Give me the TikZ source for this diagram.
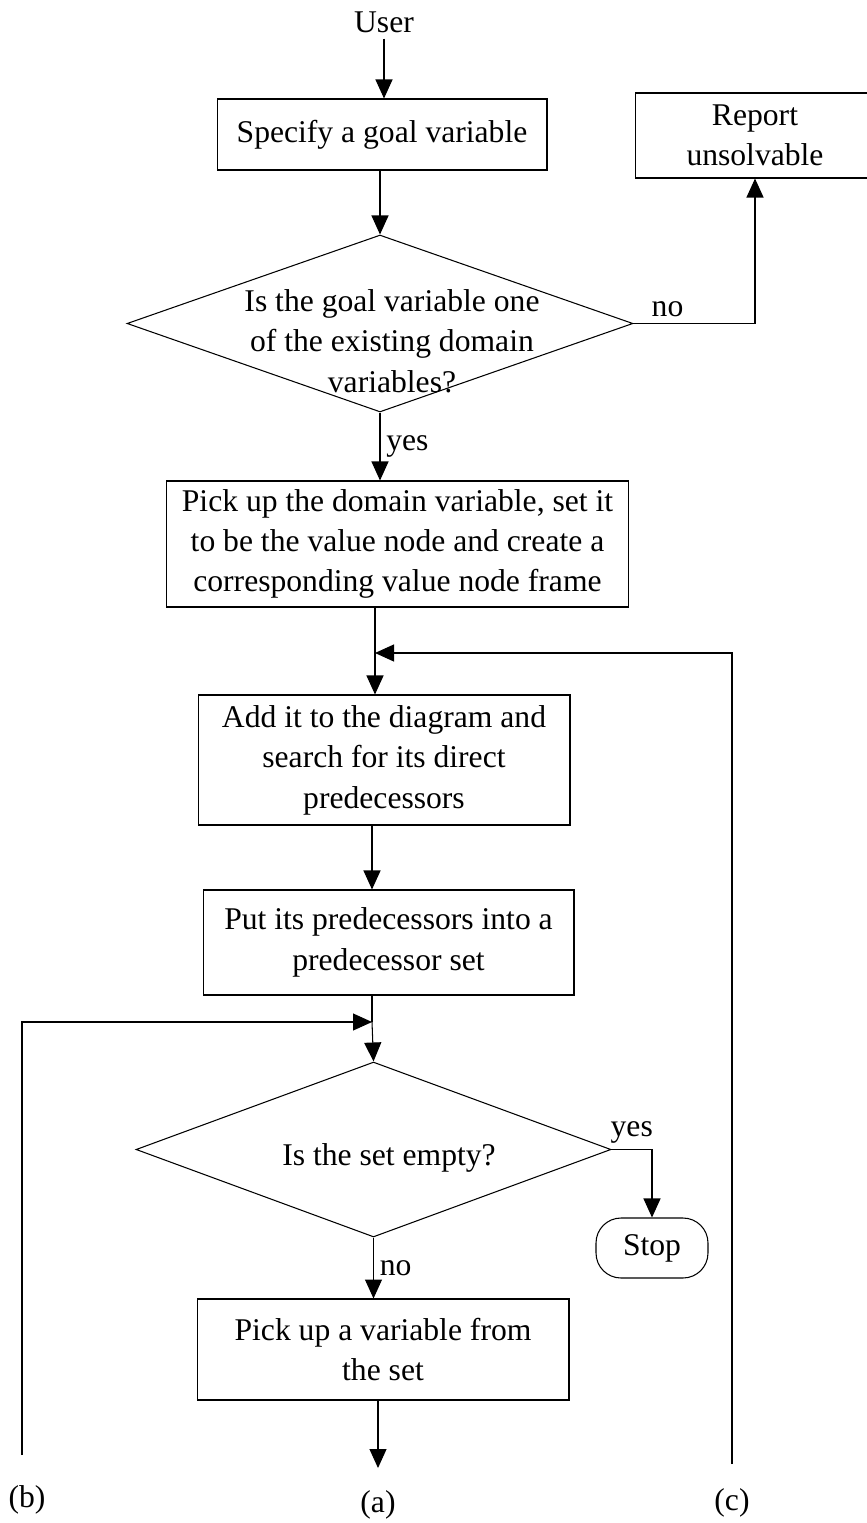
\documentclass[tikz,border=0pt]{standalone}
\usepackage{fontspec}
\setmainfont{Liberation Serif}
\usetikzlibrary{arrows.meta,shapes.geometric,positioning}

\tikzset{
  block/.style={draw,line width=0.6pt,align=center,inner sep=0pt},
  decision/.style={draw,diamond,line width=0.6pt,inner sep=0pt},
  terminal/.style={draw,rounded corners=0.5cm,line width=0.6pt,inner sep=0pt},
  conn/.style={line width=0.6pt}
}

\begin{document}
\begin{tikzpicture}[x=0.02cm,y=-0.02cm,>={Triangle[length=0.38cm,width=0.34cm]},
    font=\fontsize{18}{23}\selectfont]

	\useasboundingbox (0,0) rectangle (866,1523);

	\node (user) at (384,22) {User};
	\node[block,minimum width=6.6cm,minimum height=1.42cm] (goal) at (382,134.5) {Specify a goal variable};
	\node[block,minimum width=4.8cm,minimum height=1.7cm] (report) at (755,135.5) {Report\\unsolvable};

	\node[decision,minimum width=10.12cm,minimum height=3.54cm] (isgoal) at (380,323.5) {};
	\node[align=center] (isgoaltxt) at (392,341) {Is the goal variable one\\of the existing domain\\variables?};

	\node[block,minimum width=9.26cm,minimum height=2.52cm] (pick) at (397.5,544) {Pick up the domain variable, set it\\to be the value node and create a\\corresponding value node frame};
	\node[block,minimum width=7.44cm,minimum height=2.6cm] (add) at (384,760) {Add it to the diagram and\\search for its direct\\predecessors};
	\node[block,minimum width=7.42cm,minimum height=2.1cm] (putset) at (388.5,942.5) {Put its predecessors into a\\predecessor set};

	\node[decision,minimum width=9.5cm,minimum height=3.5cm] (isempty) at (373.5,1149.5) {};
	\node (isemptytxt) at (389,1158) {Is the set empty?};
	\node[terminal,minimum width=2.24cm,minimum height=1.2cm] (stop) at (652,1248) {Stop};

	\node[block,minimum width=7.44cm,minimum height=2.02cm] (varpick) at (383,1349.5) {Pick up a variable from\\the set};

	\node (a) at (378,1505) {(a)};
	\node (b) at (27,1500) {(b)};
	\node (c) at (732,1503) {(c)};

	\coordinate (loopc) at (375,653);
	\coordinate (loopb) at (372,1022);
	\coordinate (aend) at (378,1468);
	\coordinate (bend) at (22,1455);
	\coordinate (cend) at (732,1464);

	\draw[conn,->] (user) -- (user |- goal.north);
	\draw[conn,->] (goal.south -| isgoal.north) -- (isgoal.north);
	\draw[conn,->] (isgoal.east) -| node[pos=0.14,above]{no} (report.south);
	\draw[conn,->] (isgoal.south) -- node[right]{yes} (isgoal.south |- pick.north);

	\draw[conn] (pick.south -| loopc) -- (loopc);
	\draw[conn,->] (loopc) -- (loopc |- add.north);
	\draw[conn,->] (cend) |- (loopc);

	\draw[conn,->] (add.south -| loopb) -- (loopb |- putset.north);
	\draw[conn] (putset.south -| loopb) -- (loopb);
	\draw[conn,->] (loopb) -- (isempty.north);
	\draw[conn,->] (bend) |- (loopb);

	\draw[conn,->] (isempty.east) -| node[pos=0.25,above]{yes} (stop.north);
	\draw[conn,->] (isempty.south) -- node[right]{no} (isempty.south |- varpick.north);
	\draw[conn,->] (varpick.south -| aend) -- (aend);

\end{tikzpicture}
\end{document}
